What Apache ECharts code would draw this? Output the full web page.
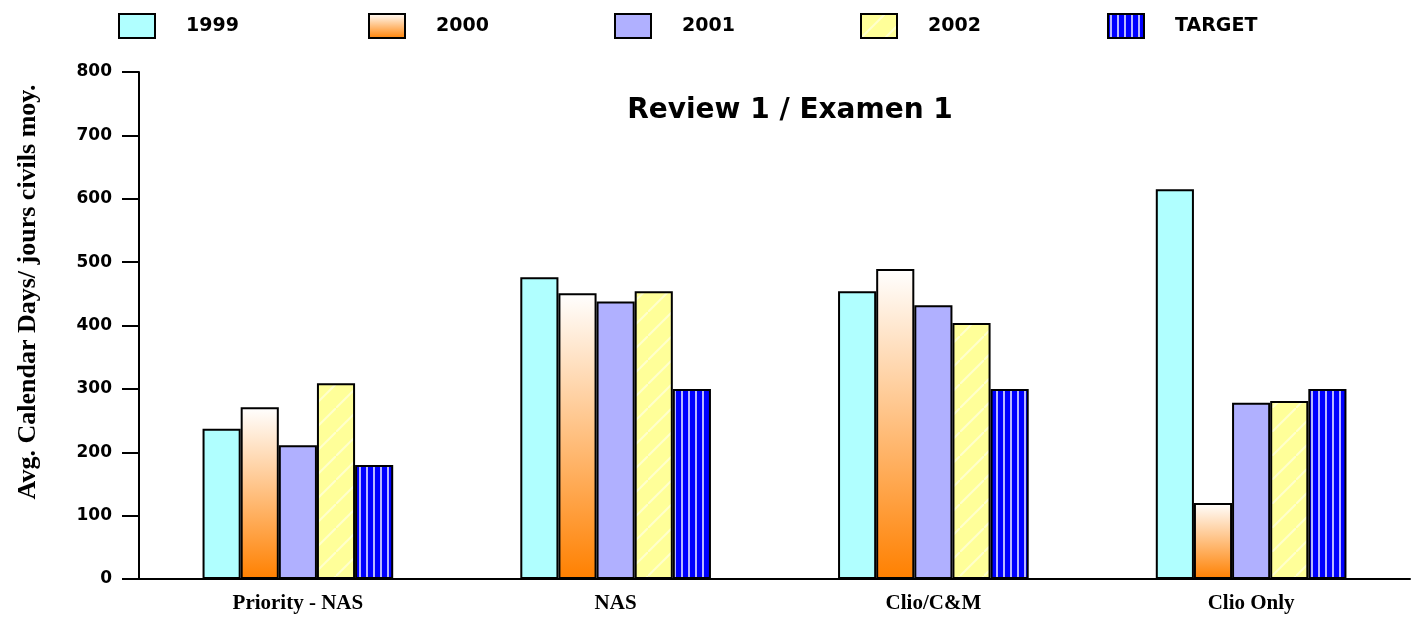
<!DOCTYPE html>
<html><head><meta charset="utf-8">
<script src="https://cdn.jsdelivr.net/npm/echarts@6/dist/echarts.min.js"></script>
<style>html,body{margin:0;padding:0;background:#fff}#c{width:1413px;height:621px}</style>
</head><body><div id="c"></div>
<script>
const categories = ['Priority - NAS', 'NAS', 'Clio/C&M', 'Clio Only'];
const seriesNames = ['1999', '2000', '2001', '2002', 'TARGET'];
const v1999 = [237, 476, 454, 615];
const v2000 = [271, 451, 489, 120];
const v2001 = [211, 438, 432, 278];
const v2002 = [309, 454, 404, 281];
const vTarget = [180, 300, 300, 300];
const yTicks = [0, 100, 200, 300, 400, 500, 600, 700, 800];
const yAxisTitle = 'Avg. Calendar Days/ jours civils moy.';
const chartTitle = 'Review 1 / Examen 1';

function stripeCanvas(bg, fg, w, h, draw) {
  const c = document.createElement('canvas'); c.width = w; c.height = h;
  const g = c.getContext('2d'); g.fillStyle = bg; g.fillRect(0, 0, w, h);
  g.fillStyle = fg; g.strokeStyle = fg; draw(g); return c;
}
const targetPat = stripeCanvas('#0000FF', '#B8B8FF', 7, 7, g => { g.fillRect(2, 0, 2, 7); });
const yellowPat = stripeCanvas('#FFFF99', '#FFFFCC', 24, 24, g => {
  g.lineWidth = 2; g.beginPath(); g.moveTo(0, 24); g.lineTo(24, 0); g.stroke();
});
const orangeGrad = {type: 'linear', x: 0, y: 0, x2: 0, y2: 1, colorStops: [{offset: 0, color: '#FFFFFF'}, {offset: 1, color: '#FF8000'}]};
const fills = ['#B0FFFF', orangeGrad, '#B0B0FF', {image: yellowPat, repeat: 'repeat'}, {image: targetPat, repeat: 'repeat'}];
const dataArr = [v1999, v2000, v2001, v2002, vTarget];
const legendLeft = [113, 363, 609, 855, 1102];

const chart = echarts.init(document.getElementById('c'));
chart.setOption({
  animation: false,
  title: {text: chartTitle, left: 785, top: 92, textAlign: 'center',
    textStyle: {fontFamily: 'DejaVu Sans', fontWeight: 'bold', fontSize: 28, color: '#000'}},
  legend: seriesNames.map((n, i) => ({
    data: [n], left: legendLeft[i], top: 8, itemWidth: 36, itemHeight: 24, itemGap: 0,
    icon: 'rect', selectedMode: false,
    textStyle: {fontFamily: 'DejaVu Sans', fontWeight: 'bold', fontSize: 19, color: '#000', padding: [0, 0, 0, 26]}
  })),
  graphic: [{
    type: 'text', x: 28, y: 292, rotation: Math.PI / 2,
    style: {text: yAxisTitle, fontFamily: 'Liberation Serif', fontWeight: 'bold', fontSize: 26, fill: '#000',
      textAlign: 'center', textVerticalAlign: 'middle'}
  }],
  grid: {left: 139, right: 3, top: 72, bottom: 42, containLabel: false},
  xAxis: {
    type: 'category', data: categories,
    axisLine: {lineStyle: {color: '#000', width: 2}},
    axisTick: {alignWithLabel: true, length: 10, lineStyle: {color: '#000', width: 2}},
    axisLabel: {margin: 14, fontFamily: 'Liberation Serif', fontWeight: 'bold', fontSize: 21, color: '#000'}
  },
  yAxis: {
    type: 'value', min: 0, max: 800, interval: 100,
    splitLine: {show: false},
    axisLine: {show: true, lineStyle: {color: '#000', width: 2}},
    axisTick: {show: true, length: 17, lineStyle: {color: '#000', width: 2}},
    axisLabel: {margin: 27, fontFamily: 'DejaVu Sans', fontWeight: 'bold', fontSize: 17, color: '#000',
      formatter: v => yTicks.includes(v) ? String(v) : ''}
  },
  series: seriesNames.map((n, i) => ({
    name: n, type: 'bar', data: dataArr[i], barGap: '0%', barCategoryGap: '40%',
    itemStyle: {color: fills[i], borderColor: '#000', borderWidth: 2}
  }))
});
</script></body></html>
